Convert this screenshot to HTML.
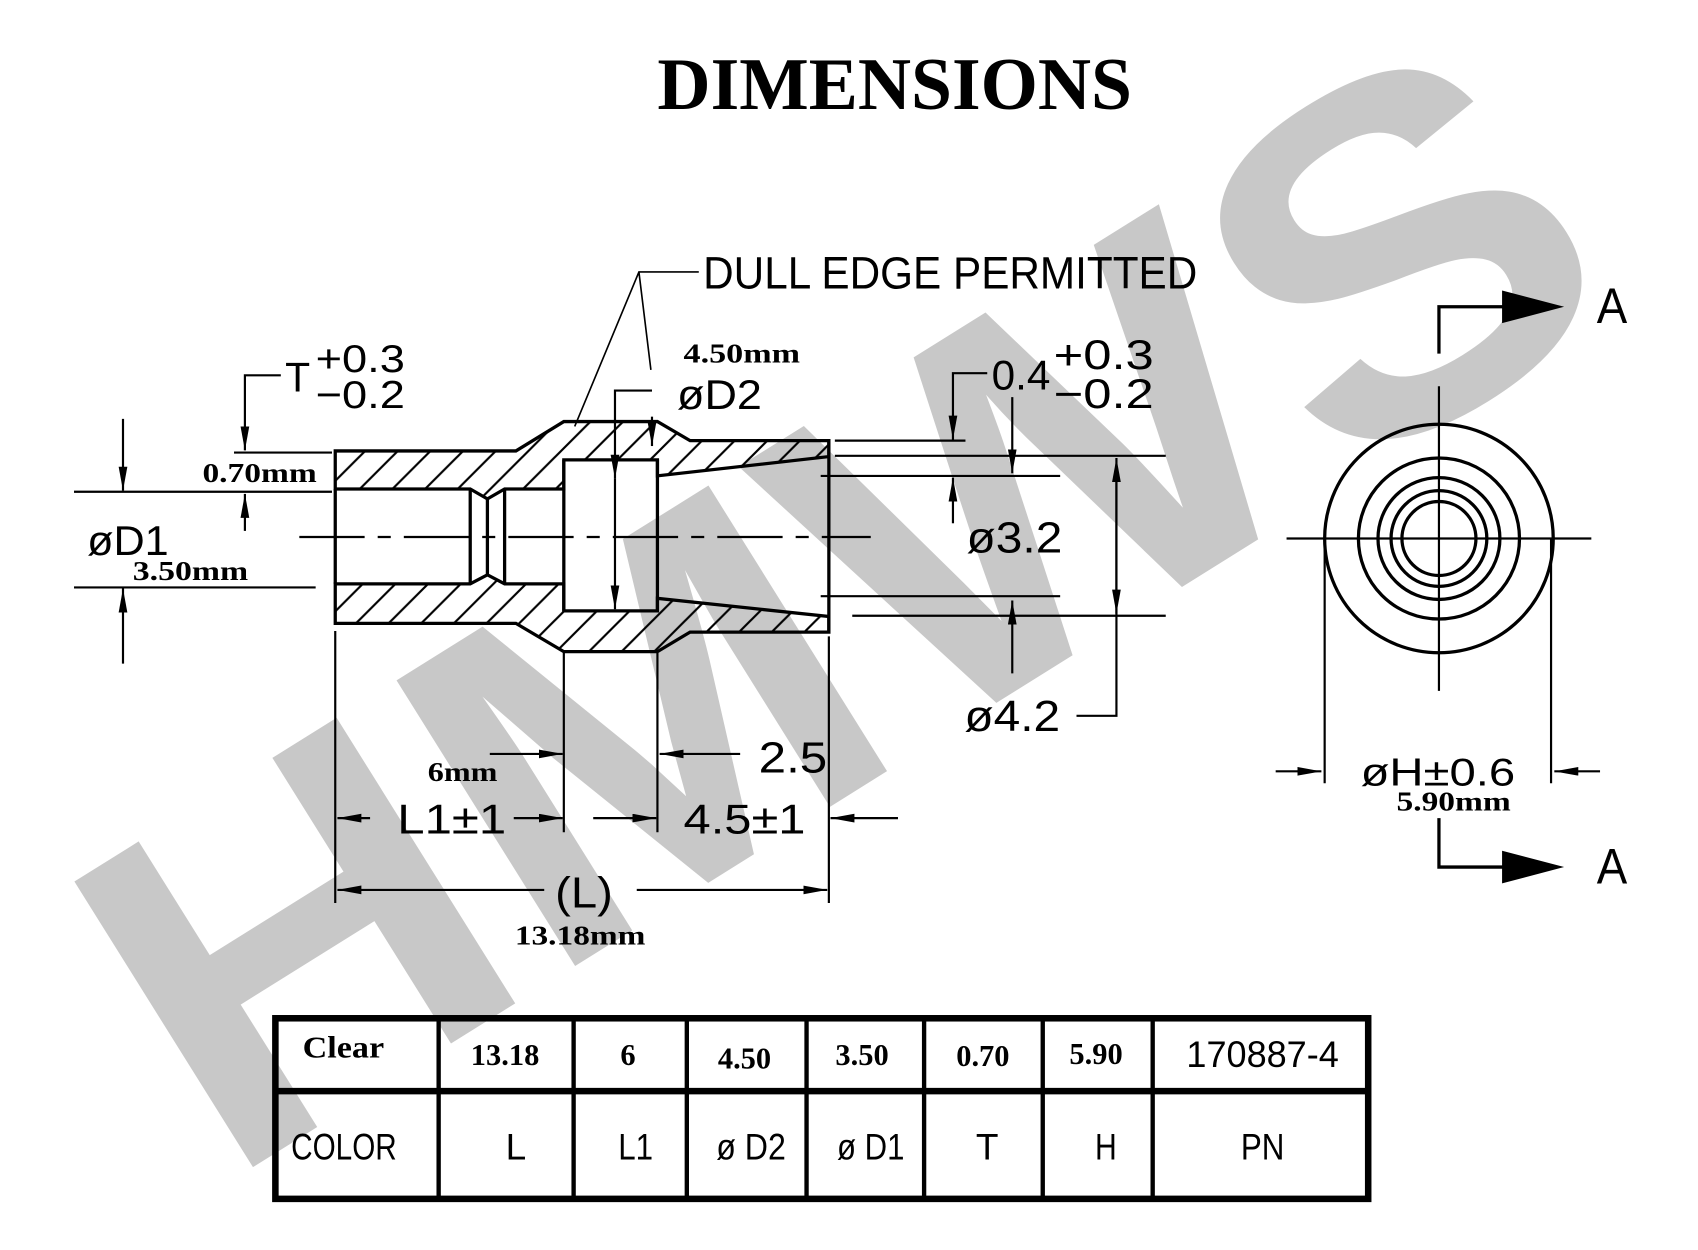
<!DOCTYPE html>
<html><head><meta charset="utf-8"><style>
html,body{margin:0;padding:0;background:#fff;}
svg{display:block;}
.n{font-family:"Liberation Sans",sans-serif;fill:#000;}
.b{font-family:"Liberation Serif",serif;font-weight:bold;fill:#000;}
</style></head><body>
<svg width="1698" height="1250" viewBox="0 0 1560 1149" preserveAspectRatio="none" xmlns="http://www.w3.org/2000/svg">
<defs>
<marker id="a" markerUnits="userSpaceOnUse" markerWidth="24" markerHeight="10" refX="22" refY="4" orient="auto"><path d="M0,0 L22,4 L0,8 z" fill="#000"/></marker>
<pattern id="h" patternUnits="userSpaceOnUse" width="30" height="30"><path d="M-5,35 L35,-5 M-5,5 L5,-5 M25,35 L35,25" stroke="#000" stroke-width="2"/></pattern>
</defs>
<rect width="1560" height="1149" fill="#fff"/>
<!-- watermark -->
<text x="0" y="0" transform="translate(205,1090) rotate(-32)" font-family="Liberation Sans,sans-serif" font-weight="bold" font-size="450" fill="#c8c8c8" textLength="1530" lengthAdjust="spacingAndGlyphs">HMWS</text>

<text x="604" y="100" class="b" font-size="68" textLength="436" lengthAdjust="spacingAndGlyphs">DIMENSIONS</text>

<g stroke="#000" fill="none" stroke-width="2">
<path d="M308,414.5 L474,414.5 L518,387.5 L604,387.5 L634,405 L761.5,405 L761.5,419.7 L604,437.4 L604,422.7 L518,422.7 L518,449.5 L463.6,449.5 L447.8,458.6 L432,449.5 L308,449.5 Z" fill="url(#h)" stroke-width="3"/>
<path d="M308,536.7 L432,536.7 L447.8,528.4 L463.6,536.7 L518,536.7 L518,561.5 L604,561.5 L604,550 L761.5,566.7 L761.5,581 L634,581 L604,599 L518,599 L474,573 L308,573 Z" fill="url(#h)" stroke-width="3"/>
<path d="M308,449.5 V536.7 M432,449.5 V536.7 M447.8,458.6 V528.4 M463.6,449.5 V536.7 M518,422.7 V561.5 M604,422.7 V561.5 M761.5,405 V581" stroke-width="3"/>
<path d="M275,493.6 H800" stroke-dasharray="60,12,12,12"/>
<path d="M308,580 V830 M518,600 V765 M604,600 V765 M761.5,585 V830"/>
<path d="M340,752 H310" marker-end="url(#a)"/>
<path d="M472,752 H517" marker-end="url(#a)"/>
<path d="M545,752 H603" marker-end="url(#a)"/>
<path d="M825,752 H763" marker-end="url(#a)"/>
<path d="M450,693 H517" marker-end="url(#a)"/>
<path d="M680,693 H606" marker-end="url(#a)"/>
<path d="M500,818 H310" marker-end="url(#a)"/>
<path d="M585,818 H760" marker-end="url(#a)"/>
<path d="M68,452 H305 M68,540 H290 M215,416 H305"/>
<path d="M113,385 V451" marker-end="url(#a)"/>
<path d="M113,610 V541" marker-end="url(#a)"/>
<path d="M258,345 H225 V414" marker-end="url(#a)"/>
<path d="M225,488 V454" marker-end="url(#a)"/>
<path d="M599,359 H565 V440" marker-end="url(#a)"/>
<path d="M565,440 V560" marker-end="url(#a)"/>
<path d="M599,383 V410" marker-end="url(#a)"/>
<path d="M642,250 H587 L528,392 M587,250 L598,340" stroke-width="1.5"/>
<path d="M767,405 H887 M767,419 H1071 M754,437.5 H974 M754,548 H974 M783,566 H1071"/>
<path d="M907,343 H875.5 V404" marker-end="url(#a)"/>
<path d="M875.5,481 V439" marker-end="url(#a)"/>
<path d="M930,365 V435" marker-end="url(#a)"/>
<path d="M930,619 V552" marker-end="url(#a)"/>
<path d="M989,658 H1025.7 V421" marker-end="url(#a)"/>
<path d="M1025.7,440 V564" marker-end="url(#a)"/>
<g stroke-width="3">
<circle cx="1322" cy="495" r="105"/><circle cx="1322" cy="495" r="74"/><circle cx="1322" cy="495" r="56"/><circle cx="1322" cy="495" r="44"/><circle cx="1322" cy="495" r="34"/>
<path d="M1322,325 V282 H1385 M1322,752 V797 H1385"/>
</g>
<path d="M1182,495 H1462 M1322,355 V635 M1310,495 H1334 M1322,483 V507 M1217,495 V720 M1425,495 V720"/>
<path d="M1172,709 H1214" marker-end="url(#a)"/>
<path d="M1470,709 H1428" marker-end="url(#a)"/>
</g>
<path d="M1380,267 L1437,282 L1380,297 Z M1380,782 L1437,797 L1380,812 Z" fill="#000"/>

<g class="n">
<text x="646" y="265" font-size="42" textLength="454" lengthAdjust="spacingAndGlyphs">DULL  EDGE  PERMITTED</text>
<text x="262" y="360" font-size="38" textLength="23" lengthAdjust="spacingAndGlyphs">T</text>
<text x="290" y="342" font-size="36" textLength="82" lengthAdjust="spacingAndGlyphs">+0.3</text>
<text x="290" y="375" font-size="36" textLength="82" lengthAdjust="spacingAndGlyphs">−0.2</text>
<text x="80" y="510" font-size="38" textLength="75" lengthAdjust="spacingAndGlyphs">øD1</text>
<text x="622" y="376" font-size="38" textLength="78" lengthAdjust="spacingAndGlyphs">øD2</text>
<text x="911" y="358" font-size="38" textLength="54" lengthAdjust="spacingAndGlyphs">0.4</text>
<text x="968" y="339" font-size="38" textLength="92" lengthAdjust="spacingAndGlyphs">+0.3</text>
<text x="968" y="375" font-size="38" textLength="92" lengthAdjust="spacingAndGlyphs">−0.2</text>
<text x="888" y="508" font-size="40" textLength="88" lengthAdjust="spacingAndGlyphs">ø3.2</text>
<text x="886" y="672" font-size="40" textLength="88" lengthAdjust="spacingAndGlyphs">ø4.2</text>
<text x="697" y="710" font-size="40" textLength="63" lengthAdjust="spacingAndGlyphs">2.5</text>
<text x="365" y="766" font-size="38" textLength="100" lengthAdjust="spacingAndGlyphs">L1±1</text>
<text x="628" y="766" font-size="38" textLength="112" lengthAdjust="spacingAndGlyphs">4.5±1</text>
<text x="510" y="834" font-size="40" textLength="53" lengthAdjust="spacingAndGlyphs">(L)</text>
<text x="1250" y="722" font-size="36" textLength="142" lengthAdjust="spacingAndGlyphs">øH±0.6</text>
<text x="1467" y="297" font-size="46" textLength="28" lengthAdjust="spacingAndGlyphs">A</text>
<text x="1467" y="812" font-size="46" textLength="28" lengthAdjust="spacingAndGlyphs">A</text>
</g>
<g class="b">
<text x="628" y="333" font-size="25" textLength="107" lengthAdjust="spacingAndGlyphs">4.50mm</text>
<text x="186" y="443" font-size="25" textLength="105" lengthAdjust="spacingAndGlyphs">0.70mm</text>
<text x="122" y="533" font-size="25" textLength="106" lengthAdjust="spacingAndGlyphs">3.50mm</text>
<text x="393" y="718" font-size="25" textLength="64" lengthAdjust="spacingAndGlyphs">6mm</text>
<text x="473" y="868" font-size="25" textLength="120" lengthAdjust="spacingAndGlyphs">13.18mm</text>
<text x="1283" y="745" font-size="25" textLength="105" lengthAdjust="spacingAndGlyphs">5.90mm</text>
</g>

<g stroke="#000" fill="none">
<rect x="253" y="936" width="1004" height="166" stroke-width="6"/>
<path d="M253,1003 H1257" stroke-width="6"/>
<path d="M403,936 V1102 M527,936 V1102 M631,936 V1102 M741,936 V1102 M849,936 V1102 M958,936 V1102 M1059,936 V1102" stroke-width="4"/>
</g>
<g class="b" font-size="28" text-anchor="middle">
<text x="278" y="972" text-anchor="start" textLength="75" lengthAdjust="spacingAndGlyphs">Clear</text>
<text x="464" y="979">13.18</text>
<text x="577" y="979">6</text>
<text x="684" y="982">4.50</text>
<text x="792" y="979">3.50</text>
<text x="903" y="980">0.70</text>
<text x="1007" y="978">5.90</text>
</g>
<g class="n" font-size="34" text-anchor="middle">
<text x="1160" y="981" textLength="140" lengthAdjust="spacingAndGlyphs">170887-4</text>
<text x="316" y="1066" textLength="97" lengthAdjust="spacingAndGlyphs">COLOR</text>
<text x="474" y="1066">L</text>
<text x="584" y="1066" textLength="32" lengthAdjust="spacingAndGlyphs">L1</text>
<text x="690" y="1066" textLength="64" lengthAdjust="spacingAndGlyphs">ø D2</text>
<text x="800" y="1066" textLength="62" lengthAdjust="spacingAndGlyphs">ø D1</text>
<text x="907" y="1066">T</text>
<text x="1016" y="1066" textLength="20" lengthAdjust="spacingAndGlyphs">H</text>
<text x="1160" y="1066" textLength="40" lengthAdjust="spacingAndGlyphs">PN</text>
</g>
</svg>
</body></html>
